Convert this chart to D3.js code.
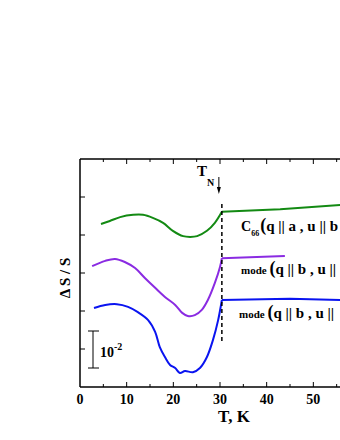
<!DOCTYPE html>
<html>
<head>
<meta charset="utf-8">
<script src="https://cdn.jsdelivr.net/npm/d3@7"></script>
<style>
  body { margin: 0; background: #fff; }
  svg { display: block; }
  text { font-family: "Liberation Serif", "Times New Roman", serif; font-weight: bold; }
</style>
</head>
<body>
<svg id="chart" width="340" height="440"></svg>
<script>
// data: T in K, dS/S in units of 1e-2 (curves shifted for clarity)
var greenT  = [4.5, 6.4, 8.6, 11.4, 13.5, 15.6, 17.8, 19.9, 22.1, 23.6, 25.1, 27.2, 28.9, 30.4];
var greenV  = [4.29, 4.37, 4.47, 4.53, 4.53, 4.45, 4.32, 4.11, 3.97, 3.95, 3.97, 4.11, 4.32, 4.61];
var greenHiT = [30.4, 42.9, 56];
var greenHiV = [4.61, 4.68, 4.79];

var purpleT = [2.6, 5.4, 7.5, 9.6, 11.8, 13.9, 16.1, 18.2, 20.4, 21.9, 23.1, 24.6, 26.1, 27.4, 28.9, 30.0, 30.4];
var purpleV = [3.18, 3.32, 3.37, 3.29, 3.13, 2.87, 2.61, 2.37, 2.16, 1.95, 1.87, 1.89, 2.03, 2.29, 2.74, 3.16, 3.39];
var purpleHiT = [30.4, 43.9];
var purpleHiV = [3.39, 3.45];

var blueT = [3.0, 5.4, 7.9, 10.3, 12.4, 14.6, 16.1, 17.1, 18.2, 19.3, 20.4, 21.4, 22.5, 24.2, 25.7, 27.2, 28.5, 29.6, 30.4];
var blueV = [2.08, 2.16, 2.18, 2.11, 1.97, 1.76, 1.45, 1.05, 0.79, 0.58, 0.50, 0.37, 0.42, 0.39, 0.50, 0.79, 1.24, 1.76, 2.29];
var blueHiT = [30.4, 45, 56];
var blueHiV = [2.29, 2.32, 2.29];

var xTickLabels = [0, 10, 20, 30, 40, 50];
var TN = 30.4;

var svg = d3.select("#chart");
var x = d3.scaleLinear().domain([0, 60]).range([80, 360]);
var y = d3.scaleLinear().domain([0, 6]).range([387, 159]);

function zip(ts, vs) { return ts.map(function(t, i) { return [t, vs[i]]; }); }

// frame (right side lies outside the picture)
svg.append("line").attr("x1", x(0)).attr("x2", 340).attr("y1", y(6)).attr("y2", y(6))
   .attr("stroke", "#000").attr("stroke-width", 1.5);
svg.append("line").attr("x1", x(0)).attr("x2", 340).attr("y1", y(0)).attr("y2", y(0))
   .attr("stroke", "#000").attr("stroke-width", 1.5);
svg.append("line").attr("x1", x(0)).attr("x2", x(0)).attr("y1", y(0)).attr("y2", y(6))
   .attr("stroke", "#000").attr("stroke-width", 1.5);

// ticks, pointing inward
d3.range(5, 60, 5).forEach(function(t) {
  var len = (t % 10 == 0) ? 5 : 3;
  svg.append("line").attr("x1", x(t)).attr("x2", x(t)).attr("y1", y(0)).attr("y2", y(0) - len)
     .attr("stroke", "#000").attr("stroke-width", 1);
  svg.append("line").attr("x1", x(t)).attr("x2", x(t)).attr("y1", y(6)).attr("y2", y(6) + len)
     .attr("stroke", "#000").attr("stroke-width", 1);
});
d3.range(1, 6).forEach(function(v) {
  svg.append("line").attr("x1", x(0)).attr("x2", x(0) + 5).attr("y1", y(v)).attr("y2", y(v))
     .attr("stroke", "#000").attr("stroke-width", 1);
});

// tick labels
svg.selectAll(".xt").data(xTickLabels).enter().append("text")
   .attr("x", function(d) { return x(d); }).attr("y", 404)
   .attr("text-anchor", "middle").attr("font-size", 14).text(function(d) { return d; });

// axis titles
svg.append("text").attr("x", 234).attr("y", 422).attr("text-anchor", "middle")
   .attr("font-size", 17).text("T, K");
svg.append("text").attr("transform", "translate(70,278) rotate(-90)").attr("text-anchor", "middle")
   .attr("font-size", 15).text("\u0394 S / S");

// curves: smooth part below T_N, straight part above
var smooth = d3.line().x(function(d) { return x(d[0]); }).y(function(d) { return y(d[1]); })
   .curve(d3.curveCatmullRom.alpha(0.5));
var straight = d3.line().x(function(d) { return x(d[0]); }).y(function(d) { return y(d[1]); });
var series = [
  { lo: zip(greenT, greenV), hi: zip(greenHiT, greenHiV), color: "#138a13" },
  { lo: zip(purpleT, purpleV), hi: zip(purpleHiT, purpleHiV), color: "#8a2be2" },
  { lo: zip(blueT, blueV), hi: zip(blueHiT, blueHiV), color: "#0a14f0" }
];
series.forEach(function(s) {
  svg.append("path").datum(s.lo).attr("d", smooth).attr("fill", "none")
     .attr("stroke", s.color).attr("stroke-width", 2).attr("stroke-linejoin", "round");
  svg.append("path").datum(s.hi).attr("d", straight).attr("fill", "none")
     .attr("stroke", s.color).attr("stroke-width", 2);
});

// T_N dashed line and arrow
svg.append("line").attr("x1", x(TN)).attr("x2", x(TN)).attr("y1", 204).attr("y2", 343)
   .attr("stroke", "#000").attr("stroke-width", 1.5).attr("stroke-dasharray", "4,3");
svg.append("line").attr("x1", x(TN) - 3).attr("x2", x(TN) - 3).attr("y1", 177).attr("y2", 190)
   .attr("stroke", "#000").attr("stroke-width", 1);
svg.append("path").attr("d", d3.line()([[x(TN) - 5, 187], [x(TN) - 1, 187], [x(TN) - 3, 194]]))
   .attr("fill", "#000");
var tn = svg.append("text").attr("x", 197).attr("y", 176).attr("font-size", 15);
tn.append("tspan").text("T");
tn.append("tspan").attr("font-size", 10).attr("dy", 10).text("N");

// scale bar 10^-2
svg.append("line").attr("x1", 93).attr("x2", 93).attr("y1", 331).attr("y2", 368)
   .attr("stroke", "#000").attr("stroke-width", 1);
[331, 368].forEach(function(yy) {
  svg.append("line").attr("x1", 88).attr("x2", 99).attr("y1", yy).attr("y2", yy)
     .attr("stroke", "#000").attr("stroke-width", 1);
});
var sb = svg.append("text").attr("x", 100).attr("y", 357).attr("font-size", 14);
sb.append("tspan").text("10");
sb.append("tspan").attr("font-size", 10).attr("dy", -7).text("-2");

// curve labels (run to the right edge, as in the picture)
var l1 = svg.append("text").attr("x", 241).attr("y", 231).attr("font-size", 14);
l1.append("tspan").text("C");
l1.append("tspan").attr("font-size", 8).attr("dy", 5).text("66");
l1.append("tspan").attr("font-size", 18).attr("dy", -5).attr("dx", 1).text("(");
l1.append("tspan").attr("font-size", 15).text("q || a , u || b");

function modeLabel(xx, yy, tail) {
  var t = svg.append("text").attr("x", xx).attr("y", yy);
  t.append("tspan").attr("font-size", 11).text("mode ");
  t.append("tspan").attr("font-size", 18).text("(");
  t.append("tspan").attr("font-size", 15).text(tail);
}
modeLabel(241, 274, "q || b , u ||");
modeLabel(239, 318, "q || b , u ||");
</script>
</body>
</html>
